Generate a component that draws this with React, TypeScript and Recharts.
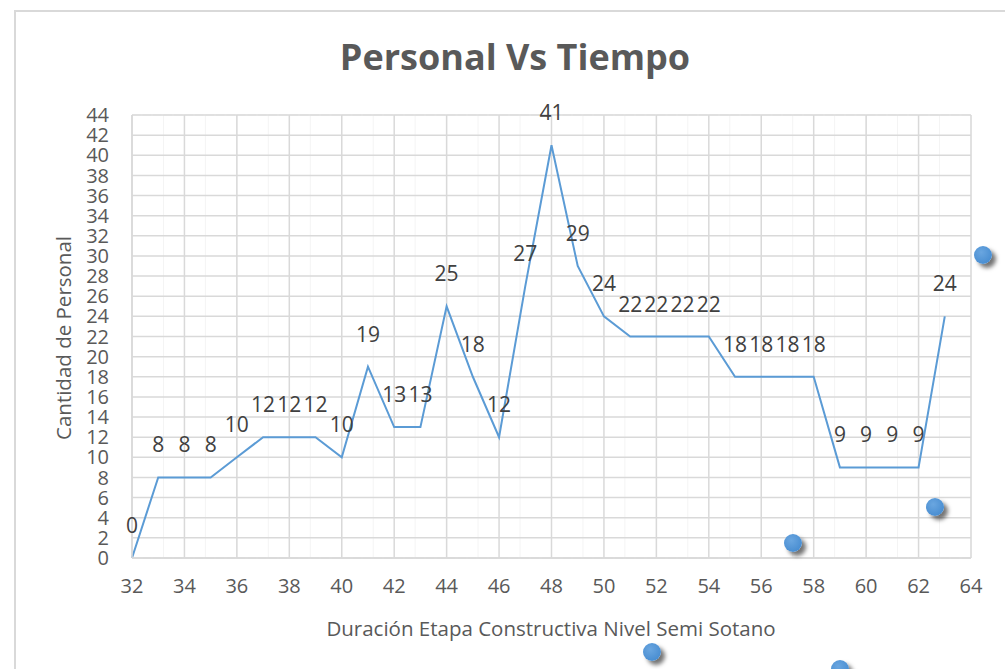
import React from "react";
import {
  LineChart,
  Line,
  XAxis,
  YAxis,
  CartesianGrid,
  LabelList,
} from "recharts";

// weeks (x) and crew size (y)
const semanas = [
  32, 33, 34, 35, 36, 37, 38, 39, 40, 41, 42, 43, 44, 45, 46, 47, 48, 49, 50,
  51, 52, 53, 54, 55, 56, 57, 58, 59, 60, 61, 62, 63,
];
const personal = [
  0, 8, 8, 8, 10, 12, 12, 12, 10, 19, 13, 13, 25, 18, 12, 27, 41, 29, 24, 22,
  22, 22, 22, 18, 18, 18, 18, 9, 9, 9, 9, 24,
];
const xTicks = [32, 34, 36, 38, 40, 42, 44, 46, 48, 50, 52, 54, 56, 58, 60, 62, 64];
const yTicks = [0, 2, 4, 6, 8, 10, 12, 14, 16, 18, 20, 22, 24, 26, 28, 30, 32, 34, 36, 38, 40, 42, 44];

const title = "Personal Vs Tiempo";
const xTitle = "Duración Etapa Constructiva Nivel Semi Sotano";
const yTitle = "Cantidad de Personal";

// minor grid every 0.4
const minorX: number[] = [];
for (let i = 0; i <= 80; i++) minorX.push(+(32 + i * 0.4).toFixed(1));
const minorY: number[] = [];
for (let i = 0; i <= 110; i++) minorY.push(+(i * 0.4).toFixed(1));

const data = semanas.map((s, i) => ({ x: s, y: personal[i] }));

const FONT = "'Open Sans', sans-serif";
const GREY = "#595959";

const DataLabel = (props: any) => {
  const { x, y, value } = props;
  return (
    <text x={x} y={y - 25} textAnchor="middle" fontSize={21} fill="#404040" fontFamily={FONT}>
      {value}
    </text>
  );
};

const handle = (left: number, top: number) => (
  <div
    style={{
      position: "absolute",
      left: left - 9,
      top: top - 9,
      width: 18,
      height: 18,
      borderRadius: "50%",
      background: "radial-gradient(circle at 40% 35%, #6aa6e0, #3d85cc)",
      boxShadow: "4px 4px 4px rgba(0,0,0,0.55)",
    }}
  />
);

export default function App() {
  return (
    <div
      style={{
        position: "fixed",
        left: 0,
        top: 0,
        width: 1005,
        height: 669,
        overflow: "hidden",
        background: "#fff",
        fontFamily: FONT,
        color: GREY,
      }}
    >
      <div
        style={{
          position: "absolute",
          left: 14,
          top: 10,
          width: 1100,
          height: 800,
          border: "2px solid #d9d9d9",
        }}
      />
      <div
        style={{
          position: "absolute",
          left: 0,
          width: 1030,
          top: 33,
          textAlign: "center",
          fontSize: 36,
          fontWeight: 700,
          lineHeight: "48px",
        }}
      >
        {title}
      </div>
      <div style={{ position: "absolute", left: 0, top: 0 }}>
        <LineChart
          width={1005}
          height={669}
          data={data}
          margin={{ top: 115, right: 34, left: 72, bottom: 41 }}
        >
          <XAxis xAxisId="minor" dataKey="x" type="number" domain={[32, 64]} ticks={minorX} hide />
          <YAxis yAxisId="minor" type="number" domain={[0, 44]} ticks={minorY} hide />
          <CartesianGrid
            xAxisId="minor"
            yAxisId="minor"
            stroke="#ececec"
            strokeWidth={1}
            strokeDasharray="8.5 2"
            vertical={false}
          />
          <CartesianGrid xAxisId="minor" yAxisId="minor" stroke="#f4f4f4" strokeWidth={1} horizontal={false} />
          <XAxis
            dataKey="x"
            type="number"
            domain={[32, 64]}
            ticks={xTicks}
            interval={0}
            tickLine={false}
            tickSize={0}
            tickMargin={21}
            height={70}
            axisLine={{ stroke: "#d9d9d9", strokeWidth: 1.5 }}
            tick={{ fontSize: 20, fill: GREY, fontFamily: FONT }}
          />
          <YAxis
            type="number"
            domain={[0, 44]}
            ticks={yTicks}
            interval={0}
            tickLine={false}
            tickSize={0}
            tickMargin={23}
            width={60}
            axisLine={{ stroke: "#d9d9d9", strokeWidth: 1.5 }}
            tick={{ fontSize: 20, fill: GREY, fontFamily: FONT }}
          />
          <CartesianGrid stroke="#d9d9d9" strokeWidth={1.5} />
          <Line
            type="linear"
            dataKey="y"
            stroke="#5b9bd5"
            strokeWidth={2}
            dot={false}
            isAnimationActive={false}
          >
            <LabelList dataKey="y" content={<DataLabel />} />
          </Line>
        </LineChart>
      </div>
      <div
        style={{
          position: "absolute",
          left: 251,
          width: 600,
          top: 614,
          textAlign: "center",
          fontSize: 20.5,
          lineHeight: "28px",
        }}
      >
        {xTitle}
      </div>
      <div
        style={{
          position: "absolute",
          left: 63 - 150,
          top: 338 - 14,
          width: 300,
          textAlign: "center",
          fontSize: 20.5,
          lineHeight: "28px",
          transform: "rotate(-90deg)",
        }}
      >
        {yTitle}
      </div>
      {handle(983, 255)}
      {handle(935, 507)}
      {handle(793, 543)}
      {handle(652, 652)}
      {handle(840, 669)}
    </div>
  );
}
